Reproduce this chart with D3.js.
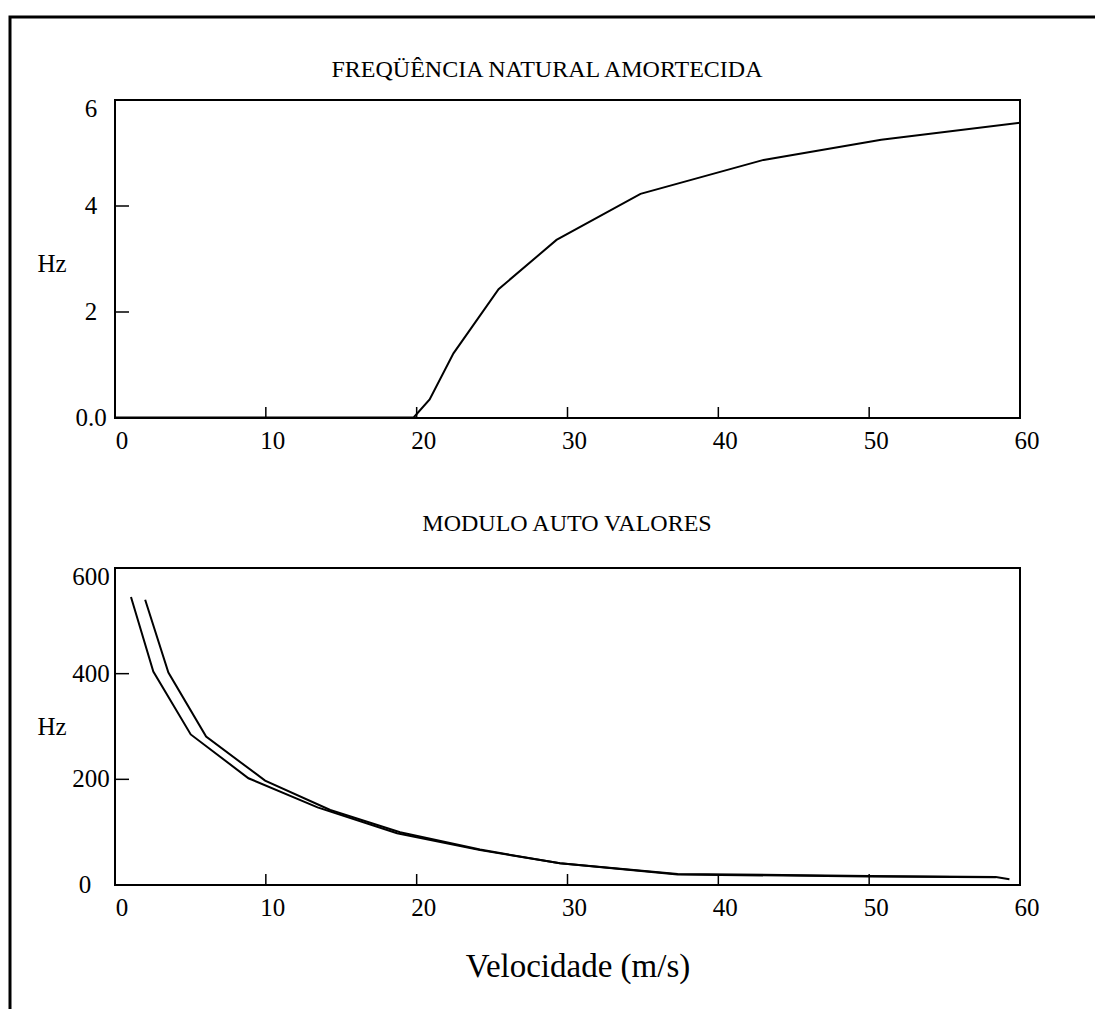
<!DOCTYPE html>
<html>
<head>
<meta charset="utf-8">
<script src="https://cdn.jsdelivr.net/npm/d3@7"></script>
<style>
  body { margin: 0; background: #fff; }
  text { font-family: "Liberation Serif", "Times New Roman", serif; fill: #000; }
</style>
</head>
<body>
<div id="chart"></div>
<script>
// top panel: damped natural frequency
const freqX = [0, 19.8, 20.86, 22.44, 25.43, 29.27, 34.84, 43.0, 50.8, 60];
const freqY = [0.01, 0.01, 0.35, 1.22, 2.43, 3.36, 4.23, 4.87, 5.25, 5.57];

// bottom panel: eigenvalue modulus, two branches
const modAX = [1.06, 2.54, 5.02, 8.85, 13.43, 18.7, 24.2, 29.5, 37.3, 50, 58.4];
const modAY = [545, 404, 285, 202, 147, 98, 66, 41, 20, 16, 14.5];
const modBX = [2.0, 3.54, 6.04, 9.95, 14.27, 18.9, 24.2, 29.5, 37.3, 50, 58.4, 59.3];
const modBY = [540, 402, 281, 197.5, 142, 100, 67, 41, 21, 17, 15, 11];

const xTicks = [0, 10, 20, 30, 40, 50, 60];
const freqTicks = [0, 2, 4, 6];
const freqTickLabels = ['0.0', '2', '4', '6'];
const modTicks = [0, 200, 400, 600];
const modTickLabels = ['0', '200', '400', '600'];

const width = 1095;
const height = 1009;

const svg = d3.select('#chart').append('svg')
  .attr('width', width)
  .attr('height', height);

// outer frame (top + left only)
svg.append('path')
  .attr('d', 'M10,1009 V17 H1095')
  .attr('fill', 'none')
  .attr('stroke', '#000')
  .attr('stroke-width', 3);

function panel(opts) {
  const x = d3.scaleLinear().domain([0, 60]).range([115, 1020]);
  const y = d3.scaleLinear().domain(opts.yDomain).range([opts.bottom, opts.top]);

  const g = svg.append('g');

  // frame
  g.append('rect')
    .attr('x', 115)
    .attr('y', opts.top)
    .attr('width', 1020 - 115)
    .attr('height', opts.bottom - opts.top)
    .attr('fill', 'none')
    .attr('stroke', '#000')
    .attr('stroke-width', 2);

  // x ticks pointing in
  g.selectAll('.xtick')
    .data(xTicks)
    .enter()
    .append('line')
    .attr('x1', d => x(d))
    .attr('x2', d => x(d))
    .attr('y1', opts.bottom)
    .attr('y2', opts.bottom - 11)
    .attr('stroke', '#000')
    .attr('stroke-width', 1.5);

  g.selectAll('.xlab')
    .data(xTicks)
    .enter()
    .append('text')
    .attr('x', d => x(d) + 7)
    .attr('y', opts.bottom + 31)
    .attr('text-anchor', 'middle')
    .style('font-size', '25px')
    .text(d => d);

  // y ticks pointing in
  g.selectAll('.ytick')
    .data(opts.yTicks)
    .enter()
    .append('line')
    .attr('x1', 115)
    .attr('x2', 129)
    .attr('y1', d => y(d))
    .attr('y2', d => y(d))
    .attr('stroke', '#000')
    .attr('stroke-width', 1.5);

  g.selectAll('.ylab')
    .data(opts.yTicks)
    .enter()
    .append('text')
    .attr('x', (d, i) => opts.yLabelX[i])
    .attr('y', (d, i) => y(d) + 8 + (i === opts.yTicks.length - 1 ? 9 : 0))
    .attr('text-anchor', 'middle')
    .style('font-size', '25px')
    .text((d, i) => opts.yTickLabels[i]);

  g.append('text')
    .attr('x', 52)
    .attr('y', opts.hzY)
    .attr('text-anchor', 'middle')
    .style('font-size', '25px')
    .text('Hz');

  g.append('text')
    .attr('x', opts.titleX)
    .attr('y', opts.titleY)
    .attr('text-anchor', 'middle')
    .style('font-size', '24px')
    .text(opts.title);

  const line = d3.line()
    .x(d => x(d[0]))
    .y(d => y(d[1]));

  opts.series.forEach(s => {
    g.append('path')
      .datum(d3.zip(s[0], s[1]))
      .attr('d', line)
      .attr('fill', 'none')
      .attr('stroke', '#000')
      .attr('stroke-width', 2);
  });
}

panel({
  top: 100,
  bottom: 418,
  yDomain: [0, 6],
  yTicks: freqTicks,
  yTickLabels: freqTickLabels,
  yLabelX: [91, 91, 91, 91],
  hzY: 272,
  title: 'FREQÜÊNCIA NATURAL AMORTECIDA',
  titleX: 547,
  titleY: 77,
  series: [[freqX, freqY]],
});

panel({
  top: 568,
  bottom: 885,
  yDomain: [0, 600],
  yTicks: modTicks,
  yTickLabels: modTickLabels,
  yLabelX: [85, 91, 91, 91],
  hzY: 735,
  title: 'MODULO AUTO VALORES',
  titleX: 567,
  titleY: 531,
  series: [[modAX, modAY], [modBX, modBY]],
});

svg.append('text')
  .attr('x', 578)
  .attr('y', 977)
  .attr('text-anchor', 'middle')
  .style('font-size', '33px')
  .text('Velocidade (m/s)');
</script>
</body>
</html>
